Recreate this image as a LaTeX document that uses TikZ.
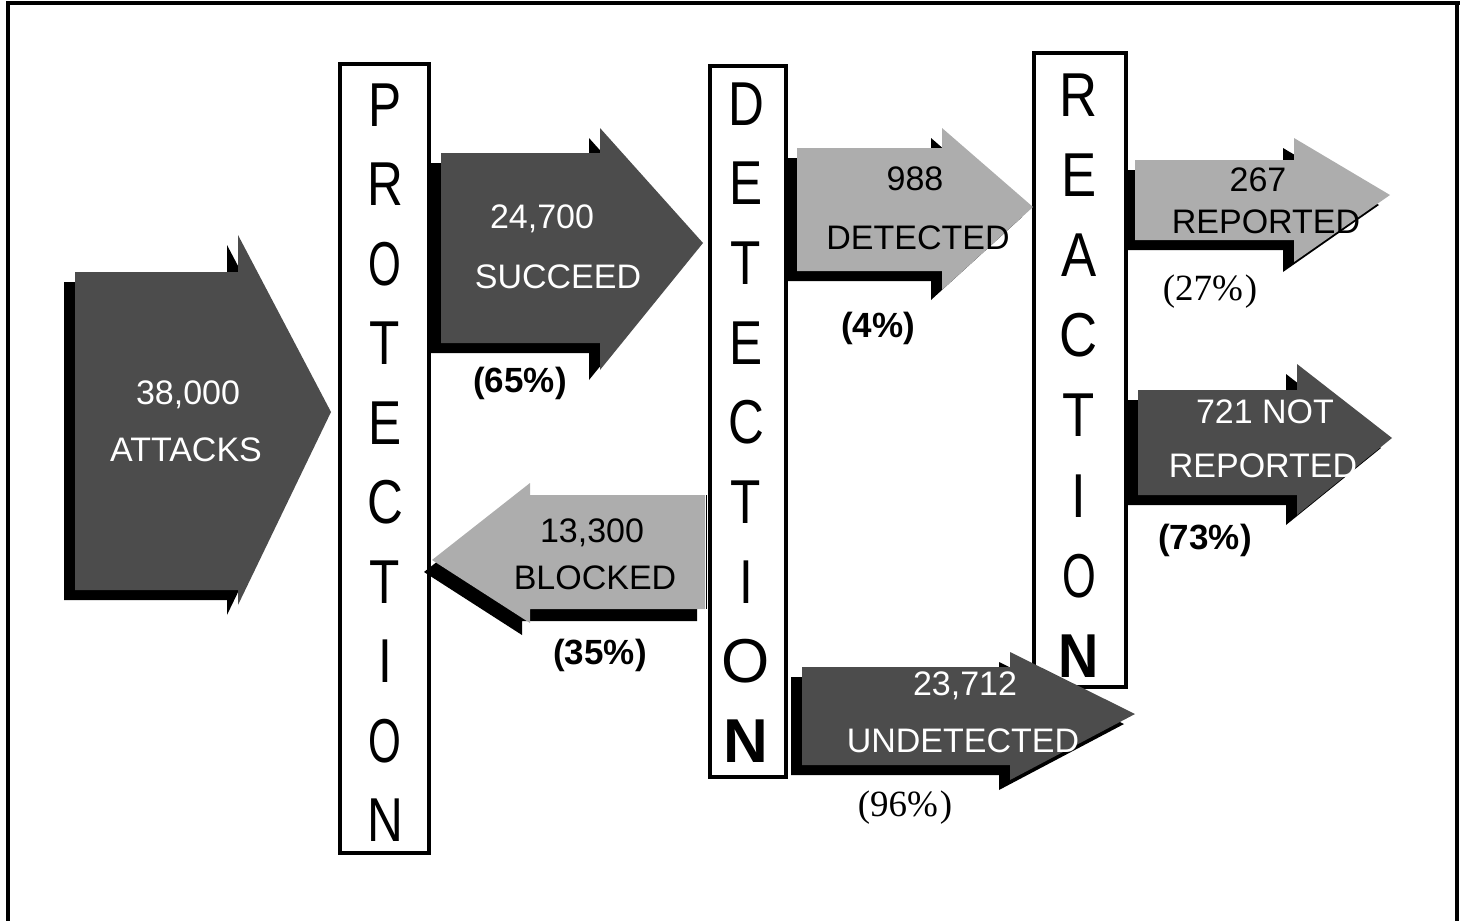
\documentclass[tikz,border=0pt]{standalone}
\usepackage{fontspec}
\setmainfont{Liberation Sans}
\newfontfamily\serifont{Liberation Serif}
\definecolor{darkfill}{gray}{0.30}
\definecolor{lightfill}{gray}{0.68}
\def\shx{-11}
\def\shy{10}
% #1 body start x, #2 head base x, #3 body top, #4 body bottom,
% #5 head top, #6 head bottom, #7 tip x, #8 tip y, #9 fill colour
\newcommand\flowarrow[9]{%
  \fill[black,shift={(\shx,\shy)}] (#1,#3) -- (#2,#3) -- (#2,#5) -- (#7,#8) -- (#2,#6) -- (#2,#4) -- (#1,#4) -- cycle;
  \fill[#9] (#1,#3) -- (#2,#3) -- (#2,#5) -- (#7,#8) -- (#2,#6) -- (#2,#4) -- (#1,#4) -- cycle;}
\newcommand\cl[2][0.8]{\scalebox{#1}[1]{#2}}
\begin{document}
\begin{tikzpicture}[x=1pt,y=-1pt,
  framestyle/.style={line width=3.5pt},
  colbox/.style={line width=3.4pt},
  colletter/.style={font=\fontsize{62}{62}\selectfont, inner sep=0pt, anchor=base},
  arrowtext/.style={font=\fontsize{34}{34}\selectfont, inner sep=0pt},
  whitetext/.style={arrowtext, text=white},
  blacktext/.style={arrowtext, text=black},
  pctsans/.style={font=\fontsize{35}{35}\selectfont\bfseries, inner sep=0pt},
  pctserif/.style={font=\serifont\fontsize{37}{37}\selectfont, inner sep=0pt}]
\useasboundingbox (0,0) rectangle (1460,921);
% outer frame
\coordinate (f1) at (8,921);
\coordinate (f2) at (8,3);
\coordinate (f3) at (1457,3);
\coordinate (f4) at (1457,921);
\coordinate (f5) at (1460,3);
\draw[framestyle] (f1) -- (f2) -- (f5);
\draw[framestyle] (f3) -- (f4);

% column boxes
\draw[colbox] (340,64) rectangle (429,853);
\draw[colbox] (710,66) rectangle (786,777);
\draw[colbox] (1034,53) rectangle (1126,687);

% PROTECTION
\foreach \l/\s [count=\i] in {P/0.8,R/0.8,O/0.68,T/0.8,E/0.8,C/0.8,T/0.8,I/0.8,O/0.68,N/0.8}
  \node[colletter] (prot\i) at (385,{104+79.5*(\i-1)+22}) {\cl[\s]{\l}};
% DETECTION
\foreach \l [count=\i] in {D,E,T,E,C,T,I}
  \node[colletter] (det\i) at (746,{103+79.7*(\i-1)+22}) {\cl{\l}};
\node[colletter] (det8) at (746,{103+79.7*7+22}) {\cl[1]{O}};
\node[colletter] (det9) at (746,{103+79.7*8+22}) {\cl[1]{\bfseries N}};
% REACTION
\foreach \l/\s [count=\i] in {R/0.85,E/0.85,A/0.85,C/0.85,T/0.85,I/0.85,O/0.7}
  \node[colletter] (rea\i) at (1079,{94+80.2*(\i-1)+22}) {\cl[\s]{\l}};
\node[colletter] (rea8) at (1079,{94+80.2*7+22}) {\cl[0.9]{\bfseries N}};

% arrows
\flowarrow{75}{238}{272}{590}{235}{605}{331}{412}{darkfill}
\flowarrow{441}{600}{153}{343}{128}{370}{703}{243}{darkfill}
\def\shx{-8}\def\shy{12}
\flowarrow{705}{530}{495}{609}{483}{623}{432}{560}{lightfill}
\draw[line width=1pt] (706,495) -- (706,609);
\def\shx{-11}\def\shy{10}
\flowarrow{797}{942}{148}{271}{128}{290}{1033}{207}{lightfill}
\flowarrow{802}{1010}{667}{765}{652}{780}{1135}{714}{darkfill}
\flowarrow{1135}{1294}{160}{240}{138}{262}{1390}{195}{lightfill}
\flowarrow{1138}{1297}{390}{495}{364}{515}{1392}{438}{darkfill}

% arrow texts
\node[whitetext] (t1a) at (188,395) {38,000};
\node[whitetext] (t1b) at (186,450) {ATTACKS};
\node[whitetext] (t2a) at (542,219) {24,700};
\node[whitetext] (t2b) at (558,277) {SUCCEED};
\node[blacktext] (t3a) at (592,533) {13,300};
\node[blacktext] (t3b) at (595,578) {BLOCKED};
\node[blacktext] (t4a) at (915,179) {988};
\node[blacktext] (t4b) at (918,238) {DETECTED};
\node[whitetext] (t5a) at (965,686) {23,712};
\node[whitetext] (t5b) at (963,741) {UNDETECTED};
\node[blacktext] (t6a) at (1258,180) {267};
\node[blacktext] (t6b) at (1266,222) {REPORTED};
\node[whitetext] (t7a) at (1265,412) {721 NOT};
\node[whitetext] (t7b) at (1263,466) {REPORTED};

% percentages
\node[pctsans] (p65) at (520,383) {(65\%)};
\node[pctsans] (p35) at (600,655) {(35\%)};
\node[pctsans] (p4) at (878,328) {(4\%)};
\node[pctserif] (p96) at (905,808) {(96\%\kern2pt)};
\node[pctserif] (p27) at (1210,292) {(27\%\kern2pt)};
\node[pctsans] (p73) at (1205,540) {(73\%)};
\end{tikzpicture}
\end{document}
